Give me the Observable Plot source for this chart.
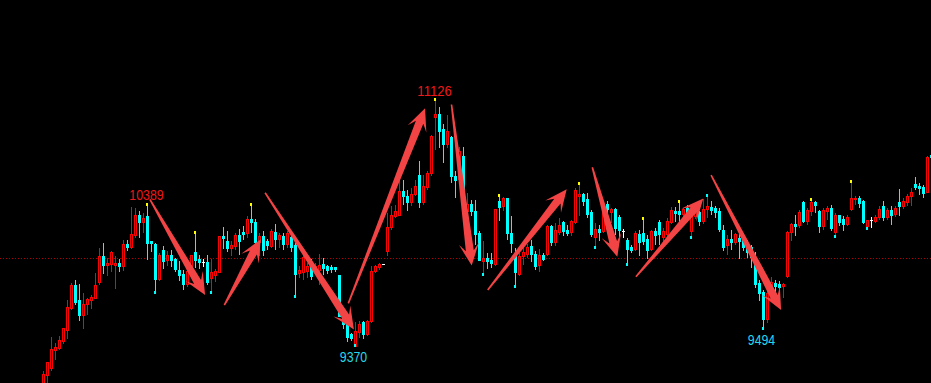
<!DOCTYPE html>
<html><head><meta charset="utf-8">
<script src="https://cdn.jsdelivr.net/npm/d3@7"></script>
<script src="https://cdn.jsdelivr.net/npm/@observablehq/plot@0.6"></script>
<style>
html,body{margin:0;padding:0;background:#000;}
#chart svg{display:block;}
</style></head><body><div id="chart"></div>
<script>
const open = [
9058,9176,9220,9346,9364,9413,9490,9645,9805,9699,
9594,9674,9703,9715,9828,10008,9947,9951,9947,9961,
9939,10095,10075,10157,10300,10250,10292,10116,10097,9847,
10053,9981,10017,9990,9912,9884,9812,9939,10038,9989,
9974,9968,9855,9876,9896,10151,10116,10068,10079,10159,
10179,10176,10270,10253,10107,10154,10116,10082,10182,10129,
10153,10094,10145,10085,9888,9895,9906,9966,9918,9913,
9954,9937,9935,9931,9878,9591,9532,9461,9380,9473,
9544,9461,9555,9907,9931,9960,10047,10214,10294,10299,
10470,10434,10388,10447,10580,10392,10498,10592,10987,11010,
10904,10799,10848,10571,10552,10716,10329,10376,10329,10172,
9973,9996,9982,9954,10395,10364,10418,10170,10012,9883,
10012,10024,10084,10024,9947,10019,10024,10224,10111,10181,
10247,10195,10177,10247,10430,10447,10411,10318,10142,10200,
10188,10376,10318,10341,10283,10188,10123,10077,10057,10165,
10174,10130,10059,10188,10252,10144,10165,10252,10329,10329,
10306,10346,10188,10292,10318,10259,10341,10355,10346,10329,
10195,10085,10128,10111,10139,10133,10095,10077,10003,9820,
9757,9569,9731,9820,9813,9797,9867,10177,10235,10228,
10388,10259,10329,10388,10329,10219,10329,10346,10177,10299,
10271,10235,10341,10411,10416,10399,10219,10271,10259,10283,
10364,10283,10336,10306,10388,10364,10388,10435,10517,10505,
10494,10463,10721];
const high = [
9203,9266,9442,9403,9448,9504,9707,9823,9843,9820,
9751,9720,9737,9892,10073,10103,10002,10051,10013,9990,
10124,10130,10362,10350,10328,10314,10389,10123,10104,10032,
10081,10046,10053,9997,9976,9919,9926,10024,10187,10024,
9996,10018,9991,9926,10153,10215,10187,10118,10179,10202,
10222,10293,10384,10272,10178,10187,10137,10201,10236,10177,
10179,10189,10187,10104,9943,10018,9966,9990,9966,10025,
10002,9954,9954,9937,9882,9599,9568,9475,9552,9555,
9555,9567,9947,9954,9966,9961,10318,10365,10376,10552,
10552,10482,10496,10552,10681,10587,10611,10869,11126,11066,
10946,11010,10857,10611,10784,10780,10459,10411,10411,10188,
10118,10036,10036,10345,10452,10430,10425,10294,10071,10036,
10095,10102,10130,10047,10064,10036,10235,10235,10247,10283,
10259,10235,10271,10496,10533,10459,10459,10341,10247,10235,
10380,10399,10353,10353,10306,10205,10142,10095,10188,10200,
10287,10165,10200,10214,10271,10214,10285,10362,10362,10409,
10355,10376,10327,10334,10334,10418,10454,10399,10364,10355,
10235,10165,10200,10177,10186,10165,10130,10095,10045,9848,
9778,9778,9869,9848,9836,9825,10188,10247,10306,10341,
10399,10353,10423,10399,10341,10353,10364,10376,10318,10306,
10294,10306,10547,10434,10434,10411,10271,10290,10306,10364,
10399,10353,10364,10369,10487,10423,10454,10494,10571,10529,
10517,10716,10763];
const low = [
9037,9121,9201,9279,9350,9397,9430,9636,9669,9560,
9499,9601,9644,9712,9813,9889,9875,9903,9783,9899,
9910,10047,10062,10143,10143,10178,9989,10045,9745,9840,
9924,9946,9939,9904,9841,9776,9798,9917,9930,9924,
9939,9811,9748,9834,9892,10065,10045,10011,10058,10023,
10129,10143,10177,10072,10011,10011,10059,10072,10058,10070,
10058,10072,10045,9716,9862,9847,9859,9847,9883,9811,
9883,9890,9895,9899,9584,9499,9411,9418,9370,9438,
9431,9449,9544,9896,9919,9950,10017,10200,10285,10294,
10376,10329,10369,10433,10353,10376,10482,10580,10760,10775,
10670,10777,10529,10423,10531,10440,10306,10299,10095,9977,
9876,9926,9931,9942,10259,10330,10130,10038,9790,9871,
9954,10003,9975,9914,9900,9977,10017,10088,10083,10165,
10153,10153,10153,10242,10294,10364,10285,10151,10066,10118,
10179,10247,10247,10165,10130,10142,9942,10038,10047,10017,
10095,9996,10047,10095,10095,10116,10151,10242,10256,10235,
10285,10299,10137,10278,10228,10242,10285,10306,10283,10186,
10047,10024,10059,10095,9996,10047,10003,9933,9792,9695,
9494,9543,9707,9754,9764,9719,9860,10118,10153,10212,
10247,10235,10294,10318,10177,10200,10271,10193,10142,10228,
10188,10224,10329,10376,10355,10242,10195,10212,10247,10271,
10259,10271,10235,10290,10294,10348,10364,10364,10482,10447,
10423,10459,10620];
const close = [
9179,9262,9354,9369,9417,9502,9650,9805,9688,9594,
9674,9706,9722,9804,10009,9946,9959,10036,9961,9940,
10094,10071,10162,10300,10250,10278,10102,10102,9847,10018,
9974,10017,9981,9918,9876,9812,9905,10017,9980,9967,
9974,9825,9898,9905,10153,10136,10066,10090,10158,10116,
10165,10271,10247,10106,10150,10052,10091,10189,10129,10156,
10094,10170,10073,9883,9914,10002,9937,9870,9942,9947,
9923,9913,9916,9918,9588,9534,9437,9430,9484,9532,
9461,9555,9907,9938,9954,9960,10212,10299,10329,10470,
10430,10388,10447,10505,10392,10505,10592,10853,11010,10892,
10799,10888,10571,10547,10751,10482,10376,10325,10165,9984,
9996,9973,9959,10341,10353,10418,10170,10099,9895,10012,
10036,10071,10024,9942,10017,9989,10219,10111,10193,10228,
10188,10172,10259,10478,10447,10399,10306,10165,10200,10181,
10341,10341,10339,10207,10195,10188,10059,10056,10169,10112,
10118,10056,10188,10161,10165,10188,10259,10336,10313,10306,
10341,10318,10306,10313,10255,10341,10360,10337,10320,10198,
10071,10128,10111,10165,10118,10071,10038,10003,9813,9752,
9567,9747,9825,9801,9790,9813,10177,10235,10223,10322,
10259,10336,10388,10371,10219,10336,10346,10205,10299,10252,
10235,10283,10416,10416,10383,10252,10264,10271,10287,10341,
10283,10336,10299,10348,10364,10399,10434,10463,10494,10487,
10454,10705,10705];

// marker flags on extreme wicks
const yellowHighMarks = [26, 38, 52, 98, 114, 134, 150, 159, 192, 202];
const cyanHighMarks = [166];
const cyanLowMarks = [28, 42, 63, 78, 110, 118, 138, 146, 162, 180, 198, 206];
// labelled extremes
const peakLabelIdx = [26, 98];
const troughLabelIdx = [78, 180];
// reference dotted level
const refLevel = 10000;
// trend arrows: [index, price] tail -> tip
const arrowFrom = [[26.6,10416],[45.2,9672],[55.4,10463],[76.2,9684],[102.0,11084],[111.05,9778],[137.2,10642],[148.1,9871],[166.9,10587]];
const arrowTo   = [[40.4,9743],[54.3,10135],[77.6,9501],[95.4,11057],[107.05,9950],[130.8,10487],[143.45,10012],[164.95,10423],[184.4,9637]];

if (![high, low, close].every(a => a.length === open.length)) throw new Error("length mismatch " + [open.length, high.length, low.length, close.length]);

const UP = "#ff0000", DOWN = "#00ffff", FLAT = "#ffffff";
const candles = open.map((o, i) => ({i, open: o, high: high[i], low: low[i], close: close[i], dir: Math.sign(close[i] - o)}));
const col = d => d.dir > 0 ? UP : d.dir < 0 ? DOWN : FLAT;

const W = 931, H = 383;
const X0 = -10.75, X1 = 222, Y0 = 9120, Y1 = 11816.32;
const sx = i => (i - X0) / (X1 - X0) * W;
const sy = p => H - (p - Y0) / (Y1 - Y0) * H;
const ix = x => x / W * (X1 - X0) + X0;
const iy = y => Y0 + (H - y) / H * (Y1 - Y0);

// arrow polygons built in screen space, mapped back to data space
const arrowPts = [];
arrowFrom.forEach((f, k) => {
  const t = [sx(f[0]), sy(f[1])], h = [sx(arrowTo[k][0]), sy(arrowTo[k][1])];
  const dx = h[0] - t[0], dy = h[1] - t[1], L = Math.hypot(dx, dy);
  const ux = dx / L, uy = dy / L, nx = -uy, ny = ux;
  const at = (a, w) => [t[0] + ux * a + nx * w, t[1] + uy * a + ny * w];
  const pts = [at(0, 0.8), at(L - 15, 4), at(L - 22, 10), h, at(L - 22, -10), at(L - 15, -4), at(0, -0.8)];
  pts.forEach(p => arrowPts.push({id: k, i: ix(p[0]), p: iy(p[1])}));
});

const body = candles.filter(d => d.dir !== 0);
const dojis = candles.filter(d => d.dir === 0);
const hiMarks = yellowHighMarks.map(i => ({i, p: high[i], c: "#ffff00"})).concat(cyanHighMarks.map(i => ({i, p: high[i], c: DOWN})));
const loMarks = cyanLowMarks.map(i => ({i, p: low[i], c: DOWN}));
const peaks = peakLabelIdx.map(i => ({i, p: high[i], t: String(high[i])}));
const troughs = troughLabelIdx.map(i => ({i, p: low[i], t: String(low[i])}));
const font = "'Liberation Sans Narrow', 'Liberation Sans', Arial, sans-serif";

const chart = Plot.plot({
  width: W, height: H, margin: 0,
  style: {background: "#000", overflow: "hidden"},
  x: {type: "linear", domain: [X0, X1], range: [0, W], axis: null},
  y: {type: "linear", domain: [Y0, Y1], range: [H, 0], axis: null},
  color: {type: "identity"},
  marks: [
    Plot.ruleY([refLevel], {stroke: "#b00000", strokeWidth: 1, strokeDasharray: "1,2", shapeRendering: "crispEdges"}),
    Plot.ruleX(candles, {x: "i", y1: "low", y2: "high", stroke: col, strokeWidth: 1, clip: true, shapeRendering: "crispEdges"}),
    Plot.rect(body, {x1: d => d.i - 0.25, x2: d => d.i + 0.25, y1: "open", y2: "close", fill: d => d.dir > 0 ? "#000" : DOWN, stroke: col, strokeWidth: 1, clip: true, shapeRendering: "crispEdges"}),
    Plot.ruleY(dojis, {y: "open", x1: d => d.i - 0.375, x2: d => d.i + 0.375, stroke: FLAT, strokeWidth: 1, shapeRendering: "crispEdges"}),
    Plot.rect(hiMarks, {x1: d => d.i - 0.375, x2: d => d.i + 0.125, y1: "p", y2: "p", insetBottom: -3, fill: "c", shapeRendering: "crispEdges"}),
    Plot.rect(loMarks, {x1: d => d.i - 0.375, x2: d => d.i + 0.125, y1: "p", y2: "p", insetTop: -3, fill: "c", shapeRendering: "crispEdges"}),
    Plot.line(arrowPts, {x: "i", y: "p", z: "id", fill: "#f24444", stroke: "none", curve: "linear-closed"}),
    Plot.text(peaks, {x: "i", y: "p", text: "t", fill: "#f01818", dx: -1, dy: -3, lineAnchor: "bottom", fontSize: 14.5, fontFamily: font}),
    Plot.text(troughs, {x: "i", y: "p", text: "t", fill: "#22d8ee", dx: -2, dy: 4, lineAnchor: "top", fontSize: 14.5, fontFamily: font})
  ]
});
chart.querySelectorAll("text").forEach(t => {
  const n = t.textContent.length;
  t.setAttribute("textLength", (n * 6.85).toFixed(1));
  t.setAttribute("lengthAdjust", "spacingAndGlyphs");
});
document.getElementById("chart").appendChild(chart);
</script></body></html>
